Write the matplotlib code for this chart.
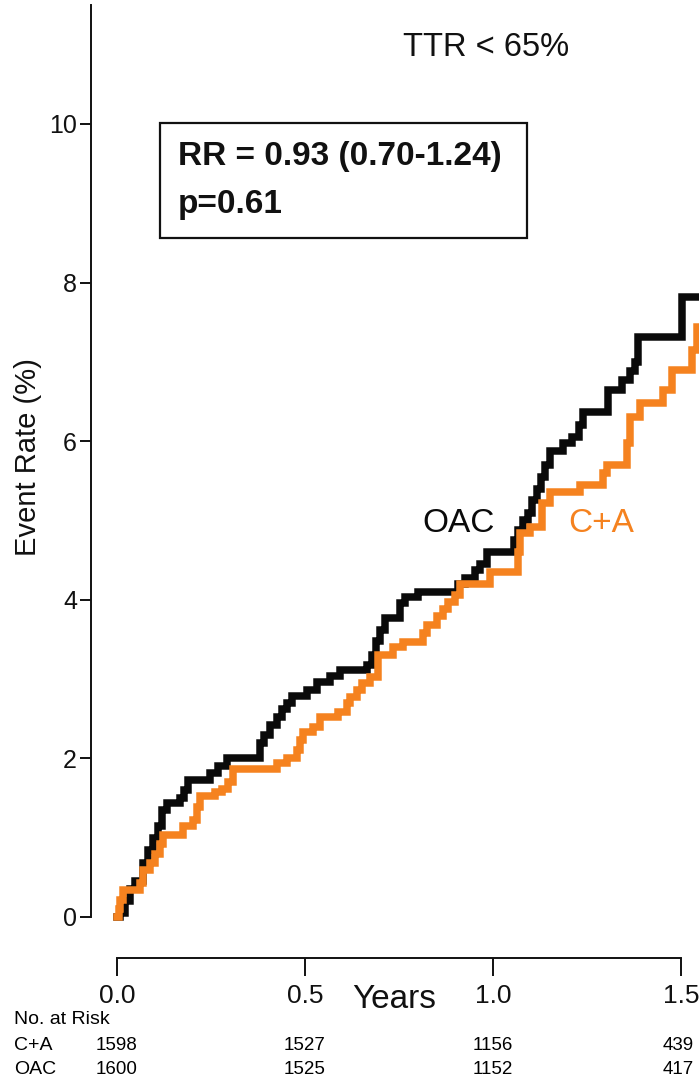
import matplotlib
matplotlib.use("Agg")
import matplotlib.pyplot as plt
import numpy as np

plt.rcParams['font.family'] = ['Liberation Sans', 'DejaVu Sans']

# cumulative event rate (%), step after each time
oac_t = [0.0, 0.008, 0.021, 0.035, 0.048, 0.069, 0.082, 0.096, 0.109, 0.120,
         0.133, 0.168, 0.178, 0.189, 0.247, 0.269, 0.293, 0.380, 0.391, 0.407,
         0.426, 0.439, 0.452, 0.465, 0.505, 0.532, 0.566, 0.593, 0.665, 0.678,
         0.689, 0.699, 0.713, 0.753, 0.766, 0.801, 0.907, 0.926, 0.952, 0.965,
         0.984, 1.056, 1.066, 1.080, 1.093, 1.104, 1.117, 1.128, 1.138, 1.152,
         1.186, 1.210, 1.229, 1.239, 1.306, 1.343, 1.364, 1.378, 1.386, 1.503]
oac_v = [0.0, 0.05, 0.2, 0.35, 0.45, 0.68, 0.85, 1.0, 1.15, 1.35,
         1.44, 1.5, 1.6, 1.73, 1.82, 1.9, 2.0, 2.2, 2.3, 2.42,
         2.52, 2.62, 2.7, 2.79, 2.86, 2.96, 3.04, 3.11, 3.18, 3.3,
         3.48, 3.62, 3.77, 3.96, 4.04, 4.1, 4.2, 4.28, 4.38, 4.45,
         4.6, 4.75, 4.88, 5.0, 5.1, 5.26, 5.4, 5.55, 5.7, 5.88,
         5.98, 6.05, 6.2, 6.37, 6.65, 6.77, 6.88, 7.0, 7.31, 7.82]

ca_t = [0.0, 0.005, 0.008, 0.016, 0.061, 0.069, 0.088, 0.101, 0.114, 0.122,
        0.176, 0.202, 0.213, 0.221, 0.261, 0.279, 0.295, 0.309, 0.426, 0.452,
        0.479, 0.487, 0.495, 0.521, 0.540, 0.588, 0.612, 0.620, 0.638, 0.652,
        0.673, 0.694, 0.734, 0.761, 0.814, 0.824, 0.851, 0.867, 0.880, 0.899,
        0.912, 0.992, 1.066, 1.072, 1.098, 1.130, 1.152, 1.231, 1.293, 1.303,
        1.356, 1.364, 1.391, 1.452, 1.476, 1.529, 1.543]
ca_v = [0.0, 0.1, 0.21, 0.34, 0.43, 0.59, 0.68, 0.8, 0.92, 1.03,
        1.15, 1.22, 1.39, 1.52, 1.58, 1.62, 1.7, 1.86, 1.94, 2.0,
        2.1, 2.23, 2.33, 2.4, 2.52, 2.58, 2.7, 2.77, 2.86, 2.95,
        3.03, 3.3, 3.4, 3.47, 3.58, 3.68, 3.8, 3.88, 3.97, 4.06,
        4.2, 4.35, 4.6, 4.84, 4.92, 5.22, 5.36, 5.45, 5.6, 5.7,
        5.98, 6.3, 6.48, 6.65, 6.9, 7.15, 7.44]

x_ticks = [0.0, 0.5, 1.0, 1.5]
x_ticklabels = ['0.0', '0.5', '1.0', '1.5']
y_ticks = [0, 2, 4, 6, 8, 10]
risk_groups = ['C+A', 'OAC']
risk_counts = [[1598, 1527, 1156, 439],
               [1600, 1525, 1152, 417]]

W, H = 699, 1081
fig = plt.figure(figsize=(W / 100, H / 100), dpi=100)

# axes placed in pixels: y spine at x=91, top at y=5, x axis line at y=958
ax = fig.add_axes([91 / W, (H - 958) / H, 608 / W, 953 / H])
xmin, xmax = -0.0691, 1.5479
ymin, ymax = -0.517, 11.50
ax.set_xlim(xmin, xmax)
ax.set_ylim(ymin, ymax)

black = '#0a0a0a'
orange = '#f5821f'
ax.step(np.append(oac_t, xmax), np.append(oac_v, oac_v[-1]), where='post',
        color=black, lw=5.4, solid_joinstyle='miter')
ax.step(np.append(ca_t, xmax), np.append(ca_v, ca_v[-1]), where='post',
        color=orange, lw=5.4, solid_joinstyle='miter')

for s in ['top', 'right']:
    ax.spines[s].set_visible(False)
ax.spines['left'].set_bounds(0, ymax)
ax.spines['bottom'].set_bounds(0, 1.5)
for s in ['left', 'bottom']:
    ax.spines[s].set_linewidth(1.4)
    ax.spines[s].set_color('#111111')

ax.set_yticks(y_ticks)
ax.set_yticklabels([str(v) for v in y_ticks])
ax.set_xticks(x_ticks)
ax.set_xticklabels(x_ticklabels)
ax.tick_params(axis='y', direction='out', length=8, width=1.4, pad=2,
               labelsize=18, colors='#111111')
ax.tick_params(axis='x', direction='out', length=13, width=1.4, pad=6,
               labelsize=19, colors='#111111')

def px(x, y):
    return x / W, 1 - y / H

fig.text(*px(28, 457), 'Event Rate (%)', rotation=90, fontsize=21,
         ha='center', va='center', color='#111111')
fig.text(*px(394, 1000), 'Years', fontsize=24, ha='center', va='center',
         color='#111111')
fig.text(*px(486, 48), 'TTR < 65%', fontsize=23.5, ha='center', va='center',
         color='#111111')

# RR box
box = plt.Rectangle(px(160, 238), 367 / W, 115 / H, transform=fig.transFigure,
                    fill=False, lw=1.6, ec='#111111')
fig.add_artist(box)
fig.text(*px(178, 157), 'RR = 0.93 (0.70-1.24)', fontsize=24,
         fontweight='bold', ha='left', va='center', color='#111111')
fig.text(*px(178, 205), 'p=0.61', fontsize=24, fontweight='bold',
         ha='left', va='center', color='#111111')

fig.text(*px(459, 524), 'OAC', fontsize=24, ha='center', va='center',
         color=black)
fig.text(*px(601, 524), 'C+A', fontsize=24, ha='center', va='center',
         color=orange)

# numbers at risk
fig.text(*px(14, 1020), 'No. at Risk', fontsize=14, ha='left', va='center')
for i, (grp, counts) in enumerate(zip(risk_groups, risk_counts)):
    yy = 1045 + 25 * i
    fig.text(*px(14, yy), grp, fontsize=14, ha='left', va='center')
    for t, n in zip(x_ticks, counts):
        xx = ax.transData.transform((t, 0))[0]
        if t == 1.5:
            xx = min(xx, 678)
        fig.text(*px(xx, yy), str(n), fontsize=13.5, ha='center', va='center')

fig.savefig('out.png', dpi=100)
